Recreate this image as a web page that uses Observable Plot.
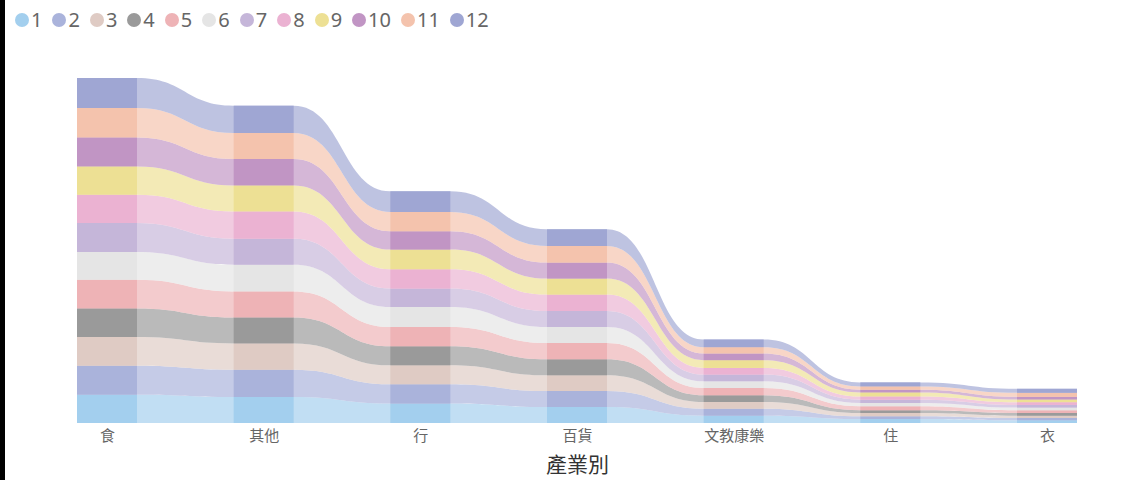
<!DOCTYPE html>
<html>
<head>
<meta charset="utf-8">
<script src="https://cdn.jsdelivr.net/npm/d3@7"></script>
<script src="https://cdn.jsdelivr.net/npm/@observablehq/plot@0.6"></script>
<style>
  html, body { margin: 0; padding: 0; background: #fff; width: 1128px; height: 480px; overflow: hidden; }
  #wrap { position: relative; width: 1128px; height: 480px; }
  #edge { position: absolute; left: 0; top: 0; width: 5px; height: 480px; background: #000; z-index: 2; }
  #legend { position: absolute; left: 15px; top: 7px; display: flex; align-items: center; font-family: "Noto Sans", "Open Sans", sans-serif; font-size: 20px; color: #666; z-index: 1; }
  .item { display: flex; align-items: center; margin-right: 10px; line-height: 26px; }
  .dot { width: 14px; height: 14px; border-radius: 50%; margin-right: 2px; }
  #chart { position: absolute; left: 0; top: 0; }
</style>
</head>
<body>
<div id="wrap">
  <div id="edge"></div>
  <div id="legend"></div>
  <div id="chart"></div>
</div>
<script>
// Categories (x axis)
const categories = ["食", "其他", "行", "百貨", "文教康樂", "住", "衣"];
// Series (months) in stacking order, bottom to top
const seriesNames = ["1", "2", "3", "4", "5", "6", "7", "8", "9", "10", "11", "12"];
const seriesColors = ["#a3cfee", "#aab3db", "#dfcbc4", "#9a9a9a", "#eeb3b6", "#e5e5e5",
                      "#c5b6d9", "#ebb2d2", "#ede094", "#c195c4", "#f4c3ad", "#9fa6d3"];
// Values per series across categories
const s1  = [28.3, 26.0, 19.4, 16.0, 7.3, 4.0, 2.7];
const s2  = [29.0, 27.3, 19.3, 16.0, 7.0, 2.7, 2.3];
const s3  = [28.7, 26.3, 19.0, 15.7, 6.7, 3.3, 2.3];
const s4  = [28.6, 26.0, 19.0, 16.0, 6.7, 2.7, 2.7];
const s5  = [28.7, 26.0, 19.3, 16.3, 7.3, 4.0, 2.7];
const s6  = [27.7, 26.7, 20.0, 16.0, 6.7, 3.3, 2.7];
const s7  = [29.0, 26.0, 18.4, 16.0, 6.7, 3.3, 2.7];
const s8  = [28.3, 27.3, 19.3, 16.4, 6.7, 3.3, 2.7];
const s9  = [28.3, 26.0, 19.7, 16.0, 7.7, 4.0, 2.7];
const s10 = [29.0, 26.4, 18.3, 16.0, 6.7, 2.7, 2.7];
const s11 = [29.4, 26.0, 19.3, 16.6, 6.3, 3.3, 4.0];
const s12 = [30.0, 27.3, 20.7, 16.7, 7.7, 4.0, 4.0];
const seriesValues = [s1, s2, s3, s4, s5, s6, s7, s8, s9, s10, s11, s12];
const axisTitle = "產業別";

// Build stacked table
const hw = 0.1915; // half bar width in category units
const bars = [];
const ribbonPts = [];
categories.forEach((c, i) => {
  let acc = 0;
  seriesNames.forEach((s, k) => {
    const v = seriesValues[k][i];
    const row = {cat: c, i, series: s, y1: acc, y2: acc + v};
    bars.push({...row, x1: i - hw, x2: i + hw});
    ribbonPts.push({...row, x: i - hw});
    ribbonPts.push({...row, x: i + hw});
    acc += v;
  });
});

// Legend
const legend = document.getElementById("legend");
seriesNames.forEach((s, k) => {
  const it = document.createElement("div");
  it.className = "item";
  const dot = document.createElement("span");
  dot.className = "dot";
  dot.style.background = seriesColors[k];
  const t = document.createElement("span");
  t.textContent = s;
  it.appendChild(dot); it.appendChild(t);
  legend.appendChild(it);
});

const maxTotal = d3.max(categories.map((c, i) => d3.sum(seriesValues, a => a[i])));

const chart = Plot.plot({
  width: 1128,
  height: 480,
  marginLeft: 77,
  marginRight: 51,
  marginTop: 78,
  marginBottom: 57,
  style: {fontFamily: "'Noto Sans CJK TC', sans-serif", background: "transparent"},
  x: {type: "linear", domain: [-hw, categories.length - 1 + hw], axis: null},
  y: {domain: [0, maxTotal], axis: null},
  color: {type: "ordinal", domain: seriesNames, range: seriesColors},
  marks: [
    Plot.area(ribbonPts, {x1: "x", y1: "y1", y2: "y2", z: "series", fill: "series", fillOpacity: 0.68, curve: "bump-x"}),
    Plot.rect(bars, {x1: "x1", x2: "x2", y1: "y1", y2: "y2", fill: "series"}),
    Plot.axisX(d3.range(categories.length), {tickSize: 0, tickPadding: 7, tickFormat: d => categories[d], fontSize: 15, fill: "#666", label: null}),
    Plot.text([axisTitle], {frameAnchor: "bottom", dy: 48, fontSize: 21, fill: "#333"})
  ]
});
document.getElementById("chart").appendChild(chart);
</script>
</body>
</html>
